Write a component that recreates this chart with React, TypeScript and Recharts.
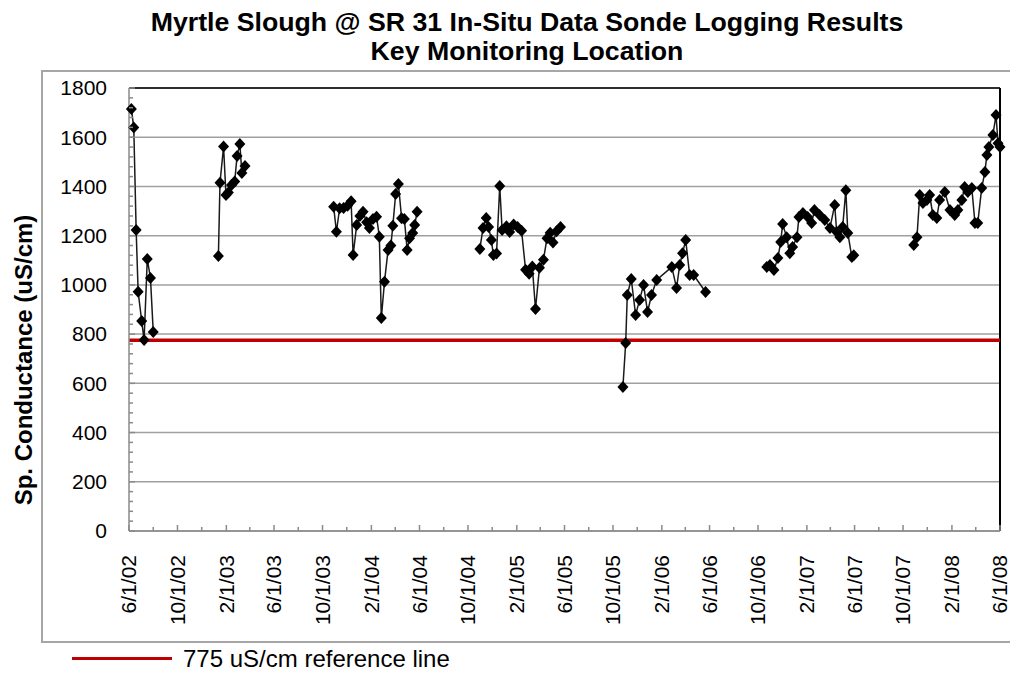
import React from "react";
import { LineChart, Line, XAxis, YAxis, CartesianGrid, ReferenceLine } from "recharts";

// sonde logging results
const sampleDates = [
  // 2002
  "2002-06-07", "2002-06-13", "2002-06-19", "2002-06-24", "2002-07-03", "2002-07-09", "2002-07-17", "2002-07-25", "2002-08-01",
  // early 2003
  "2003-01-12", "2003-01-16", "2003-01-25", "2003-01-31", "2003-02-06", "2003-02-14", "2003-02-22", "2003-02-28", "2003-03-07",
  "2003-03-12", "2003-03-20",
  // 2003-04
  "2003-10-29", "2003-11-05", "2003-11-13", "2003-11-23", "2003-12-03", "2003-12-12", "2003-12-17", "2003-12-26", "2004-01-03",
  "2004-01-11", "2004-01-20", "2004-01-27", "2004-02-05", "2004-02-14", "2004-02-21", "2004-02-26", "2004-03-05", "2004-03-14",
  "2004-03-21", "2004-03-26", "2004-04-02", "2004-04-09", "2004-04-17", "2004-04-24", "2004-05-01", "2004-05-07", "2004-05-15",
  "2004-05-20", "2004-05-26",
  // 2004-05
  "2004-10-31", "2004-11-08", "2004-11-16", "2004-11-22", "2004-11-29", "2004-12-04", "2004-12-12", "2004-12-20", "2004-12-26",
  "2005-01-06", "2005-01-14", "2005-01-24", "2005-02-03", "2005-02-13", "2005-02-23", "2005-03-04", "2005-03-12", "2005-03-20",
  "2005-03-30", "2005-04-09", "2005-04-18", "2005-04-26", "2005-05-03", "2005-05-12", "2005-05-22",
  // 2005-06
  "2005-10-26", "2005-11-02", "2005-11-06", "2005-11-16", "2005-11-27", "2005-12-07", "2005-12-17", "2005-12-27", "2006-01-06",
  "2006-01-19", "2006-02-26", "2006-03-10", "2006-03-18", "2006-03-25", "2006-04-02", "2006-04-12", "2006-04-22", "2006-05-22",
  // 2006-07
  "2006-10-23", "2006-10-31", "2006-11-10", "2006-11-20", "2006-11-27", "2006-12-02", "2006-12-12", "2006-12-20", "2006-12-27",
  "2007-01-07", "2007-01-12", "2007-01-22", "2007-02-03", "2007-02-13", "2007-02-20", "2007-03-05", "2007-03-18", "2007-03-31",
  "2007-04-12", "2007-04-17", "2007-04-25", "2007-05-02", "2007-05-10", "2007-05-15", "2007-05-25", "2007-05-30",
  // 2007-08
  "2007-10-28", "2007-11-05", "2007-11-12", "2007-11-20", "2007-11-30", "2007-12-07", "2007-12-15", "2007-12-25", "2008-01-01",
  "2008-01-14", "2008-01-27", "2008-02-08", "2008-02-16", "2008-02-26", "2008-03-04", "2008-03-12", "2008-03-22", "2008-03-30",
  "2008-04-06", "2008-04-16", "2008-04-24", "2008-04-29", "2008-05-04", "2008-05-14", "2008-05-22", "2008-05-27", "2008-06-01",
];

const conductance = [
  1715, 1639, 1223, 972, 853, 776, 1105, 1028, 809,
  1117, 1415, 1562, 1365, 1375, 1406, 1420, 1524, 1572, 1455, 1483,
  1318, 1216, 1311, 1312, 1322, 1340, 1121, 1243, 1280, 1297, 1255, 1231, 1268, 1277, 1196, 865, 1013, 1142, 1160, 1240,
  1369, 1410, 1271, 1268, 1142, 1190, 1211, 1243, 1297,
  1146, 1231, 1272, 1235, 1182, 1121, 1128, 1402, 1223, 1238, 1215, 1245, 1235, 1220, 1062, 1045, 1075, 902, 1070, 1102,
  1190, 1212, 1172, 1218, 1235,
  585, 764, 959, 1024, 878, 939, 1000, 890, 959, 1020, 1073, 987, 1081, 1129, 1182, 1040, 1040, 971,
  1073, 1081, 1060, 1109, 1174, 1247, 1194, 1129, 1154, 1194, 1276, 1292, 1276, 1251, 1304, 1284, 1264, 1231, 1325, 1215,
  1194, 1235, 1385, 1211, 1113, 1120,
  1162, 1194, 1365, 1333, 1345, 1365, 1284, 1272, 1345, 1377, 1304, 1284, 1304, 1345, 1398, 1377, 1394, 1251, 1251, 1394,
  1459, 1528, 1560, 1609, 1690, 1576, 1560,
];

const xTickLabels = [
  "6/1/02", "10/1/02", "2/1/03", "6/1/03", "10/1/03", "2/1/04", "6/1/04", "10/1/04", "2/1/05", "6/1/05",
  "10/1/05", "2/1/06", "6/1/06", "10/1/06", "2/1/07", "6/1/07", "10/1/07", "2/1/08", "6/1/08",
];
const yTickLabels = [0, 200, 400, 600, 800, 1000, 1200, 1400, 1600, 1800];
const referenceValue = 775;

const DAY = 86400000;
const axisGray = "#8a8a8a";
const font = '"Liberation Sans", Arial, sans-serif';

const toTime = (s: string) => {
  const [y, m, d] = s.split("-").map(Number);
  return Date.UTC(y, m - 1, d);
};
const labelToTime = (s: string) => {
  const [m, d, y] = s.split("/").map(Number);
  return Date.UTC(2000 + y, m - 1, d);
};

const majorX = xTickLabels.map(labelToTime);
// minor ticks every 2 months between the labelled ones
const minorX = majorX.slice(0, -1).map((t) => {
  const dt = new Date(t);
  return Date.UTC(dt.getUTCFullYear(), dt.getUTCMonth() + 2, 1);
});
const xTicks = [...majorX, ...minorX].sort((a, b) => a - b);
const labelByTime = new Map(majorX.map((t, i) => [t, xTickLabels[i]]));
const yTicks = Array.from({ length: 46 }, (_, i) => i * 40);

// break the line between deployments
const chartData: { t: number; v: number | null }[] = [];
sampleDates.forEach((d, i) => {
  const t = toTime(d);
  if (i > 0 && t - toTime(sampleDates[i - 1]) > 45 * DAY) chartData.push({ t: t - DAY, v: null });
  chartData.push({ t, v: conductance[i] });
});

function XTick(props: any) {
  const { x, y, payload } = props;
  const label = labelByTime.get(payload.value);
  const ly = y + 24;
  return (
    <g>
      <line x1={x} y1={y} x2={x} y2={y - (label ? 6 : 4)} stroke={axisGray} strokeWidth={1.5} />
      {label && (
        <text
          x={x}
          y={ly}
          transform={`rotate(-90 ${x} ${ly})`}
          textAnchor="end"
          dy="0.35em"
          fontSize={21}
          fontFamily={font}
          fill="#000"
        >
          {label}
        </text>
      )}
    </g>
  );
}

function YTick(props: any) {
  const { x, y, payload } = props;
  const major = yTickLabels.includes(payload.value);
  return (
    <g>
      <line x1={x} y1={y} x2={x + (major ? 6 : 4)} y2={y} stroke={axisGray} strokeWidth={1.5} />
      {major && (
        <text x={x - 22} y={y} dy="0.35em" textAnchor="end" fontSize={21} fontFamily={font} fill="#000">
          {payload.value}
        </text>
      )}
    </g>
  );
}

function Diamond(props: any) {
  const { cx, cy, index, value } = props;
  if (cx == null || cy == null || value == null) return <g key={`dm-${index}`} />;
  return (
    <path
      key={`dm-${index}`}
      d={`M${cx},${cy - 6} L${cx + 5.5},${cy} L${cx},${cy + 6} L${cx - 5.5},${cy} Z`}
      fill="#000"
    />
  );
}

export default function App() {
  return (
    <div style={{ position: "relative", width: 1010, height: 673, overflow: "hidden", background: "#fff", fontFamily: font }}>
      <style>{"body{margin:0}"}</style>
      <div
        style={{
          position: "absolute",
          left: 41,
          top: 70,
          width: 1000,
          height: 573,
          boxSizing: "border-box",
          border: "2px solid #a6a6a6",
        }}
      />
      <div
        style={{
          position: "absolute",
          left: 27,
          top: 8,
          width: 1000,
          textAlign: "center",
          fontSize: 26.7,
          fontWeight: "bold",
          lineHeight: "29px",
        }}
      >
        <div>Myrtle Slough @ SR 31 In-Situ Data Sonde Logging Results</div>
        <div>Key Monitoring Location</div>
      </div>
      <div
        style={{
          position: "absolute",
          left: 24,
          top: 360,
          transform: "translate(-50%, -50%) rotate(-90deg)",
          whiteSpace: "nowrap",
          fontSize: 24,
          fontWeight: "bold",
          lineHeight: 1,
        }}
      >
        Sp. Conductance (uS/cm)
      </div>
      <div style={{ position: "absolute", left: 0, top: 0 }}>
        <LineChart width={1010} height={673} data={chartData} margin={{ top: 88, right: 10, bottom: 0, left: 0 }}>
          <CartesianGrid horizontalValues={yTickLabels} vertical={false} stroke="#a0a0a0" strokeWidth={1.5} />
          <XAxis
            dataKey="t"
            type="number"
            domain={[majorX[0], majorX[majorX.length - 1]]}
            ticks={xTicks}
            interval={0}
            tick={(p: any) => <XTick {...p} />}
            tickLine={false}
            tickSize={0}
            tickMargin={0}
            height={142}
            axisLine={{ stroke: axisGray, strokeWidth: 1.5 }}
          />
          <YAxis
            type="number"
            domain={[0, 1800]}
            ticks={yTicks}
            interval={0}
            tick={(p: any) => <YTick {...p} />}
            tickLine={false}
            tickSize={0}
            tickMargin={0}
            width={129}
            axisLine={{ stroke: axisGray, strokeWidth: 1.5 }}
          />
          <ReferenceLine y={1800} stroke="#000" strokeWidth={1.5} />
          <ReferenceLine x={majorX[majorX.length - 1]} stroke="#000" strokeWidth={2} />
          <ReferenceLine y={referenceValue} stroke="#c00000" strokeWidth={3.5} />
          <Line
            dataKey="v"
            stroke="#1a1a1a"
            strokeWidth={1.5}
            dot={(p: any) => <Diamond {...p} />}
            activeDot={false}
            connectNulls={false}
            isAnimationActive={false}
          />
        </LineChart>
      </div>
      <div style={{ position: "absolute", left: 72, top: 657, width: 100, height: 3, background: "#c00000" }} />
      <div style={{ position: "absolute", left: 183, top: 647, fontSize: 24, lineHeight: 1, whiteSpace: "nowrap" }}>
        775 uS/cm reference line
      </div>
    </div>
  );
}
